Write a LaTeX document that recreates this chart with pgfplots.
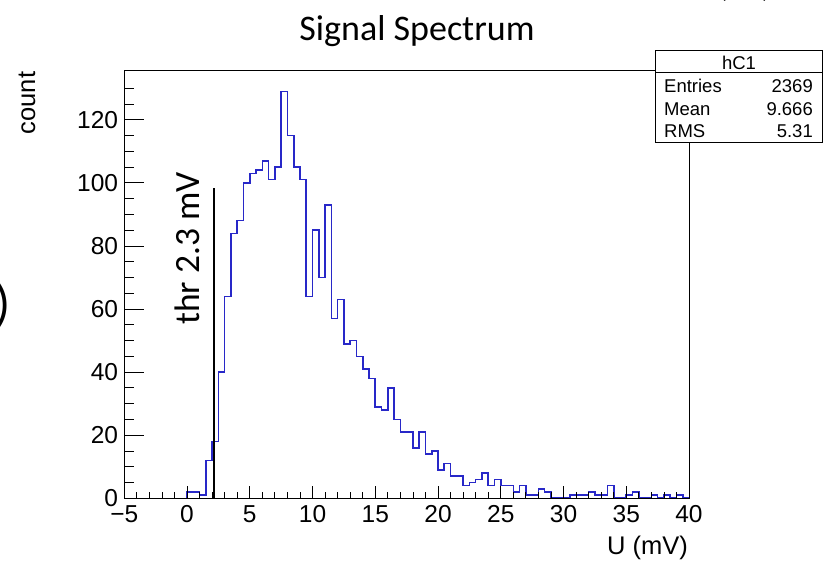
\documentclass[border=0pt]{standalone}
\usepackage{pgfplots}
\pgfplotsset{compat=1.18}
\usepackage{fontspec}
\setmainfont{Liberation Sans}
\newfontfamily\calfont{Carlito}
\definecolor{histblue}{RGB}{40,40,200}
\pgfplotstableread{
x y
0 0
0 2
0.5 2
1 1
1.5 12
2 18
2.5 40
3 64
3.5 84
4 88
4.5 100
5 103
5.5 104
6 107
6.5 101
7 105
7.5 129
8 115
8.5 105
9 101
9.5 64
10 85
10.5 70
11 93
11.5 57
12 63
12.5 49
13 50
13.5 45
14 41
14.5 38
15 29
15.5 28
16 35
16.5 25
17 21
17.5 21
18 16
18.5 21
19 14
19.5 15
20 9
20.5 11
21 7
21.5 7
22 4
22.5 5
23 6
23.5 8
24 4
24.5 6
25 4
25.5 4
26 2
26.5 4
27 1
27.5 1
28 3
28.5 2
29 0
29.5 0
30 0
30.5 1
31 1
31.5 1
32 2
32.5 1
33 1
33.5 4
34 0
34.5 0
35 1
35.5 2
36 0
36.5 0
37 1
37.5 0
38 1
38.5 0
39 1
39.5 0
40 0
}\histdata
\begin{document}
\begin{tikzpicture}
\useasboundingbox (0pt,0pt) rectangle (823pt,565pt);
% main axis: histogram + y ticks
\begin{axis}[
  at={(124.3pt,66.7pt)}, anchor=south west,
  scale only axis, width=564.7pt, height=427.3pt,
  xmin=-5, xmax=40, ymin=0, ymax=135.45,
  axis on top,
  axis line style={line width=1pt, black},
  tick align=inside,
  ytick pos=left,
  xtick=\empty,
  ytick={0,20,40,60,80,100,120},
  yticklabels={0,20,40,60,80,100,120},
  minor ytick={5,10,15,25,30,35,45,50,55,65,70,75,85,90,95,105,110,115,125,130},
  major tick length=20pt, minor tick length=10pt,
  every tick/.style={black, line width=0.8pt},
  yticklabel style={font=\fontsize{24.5}{29}\selectfont, inner sep=0pt, anchor=east, xshift=-6pt},
]
\addplot[const plot mark left, draw=histblue, line width=1.6pt, line join=miter, mark=none] table[x=x,y=y] {\histdata};
\draw[black, line width=1.2pt] (axis cs:2.15,0) -- (axis cs:2.15,98.3);
\end{axis}
% second axis: x ticks
\begin{axis}[
  at={(124.3pt,66.7pt)}, anchor=south west,
  scale only axis, width=564.7pt, height=427.3pt,
  xmin=-5, xmax=40, ymin=0, ymax=135.45,
  axis line style={line width=1pt, black},
  tick align=inside,
  xtick pos=bottom,
  ytick=\empty,
  xtick={-5,0,5,10,15,20,25,30,35,40},
  xticklabels={−5,0,5,10,15,20,25,30,35,40},
  minor xtick={-4,-3,-2,-1,1,2,3,4,6,7,8,9,11,12,13,14,16,17,18,19,21,22,23,24,26,27,28,29,31,32,33,34,36,37,38,39},
  major tick length=12pt, minor tick length=6pt,
  every tick/.style={black, line width=0.8pt},
  xticklabel style={font=\fontsize{24.5}{29}\selectfont, inner sep=0pt, anchor=north, yshift=-6.7pt},
]
\end{axis}
% axis titles
\node[rotate=90, anchor=base east, inner sep=0pt, font=\fontsize{25.5}{30}\selectfont] at (35pt,493.3pt) {count};
\node[anchor=base east, inner sep=0pt, font=\fontsize{25.5}{30}\selectfont] at (688pt,10pt) {U (mV)};
% title
\node[anchor=base, inner sep=0pt, font=\calfont\fontsize{36}{42}\selectfont] at (417pt,524pt) {Signal Spectrum};
% threshold label
\node[rotate=90, anchor=base west, inner sep=0pt, font=\calfont\fontsize{35.5}{42}\selectfont] at (199pt,240pt) {thr 2.3 mV};
% stats box
\filldraw[fill=white, draw=black, line width=1pt] (655pt,422.3pt) rectangle (822.3pt,514pt);
\draw[black, line width=1pt] (655pt,492.3pt) -- (822.3pt,492.3pt);
\begin{scope}[every node/.style={inner sep=0pt, font=\fontsize{18.5}{22}\selectfont}]
\node[anchor=base] at (739pt,495pt) {hC1};
\node[anchor=base west] at (664pt,472.3pt) {Entries};
\node[anchor=base east] at (813pt,472.3pt) {2369};
\node[anchor=base west] at (664pt,449pt) {Mean};
\node[anchor=base east] at (813pt,449pt) {9.666};
\node[anchor=base west] at (664pt,427.7pt) {RMS};
\node[anchor=base east] at (813pt,427.7pt) {5.31};
\end{scope}
% slide fragments
\node[anchor=base west, inner sep=0pt, font=\calfont\fontsize{50}{60}\selectfont] at (-4.5pt,244.5pt) {)};
\node[anchor=base west, inner sep=0pt, font=\calfont\fontsize{36}{42}\selectfont] at (717pt,568.8pt) {(ns)};
\end{tikzpicture}
\end{document}
